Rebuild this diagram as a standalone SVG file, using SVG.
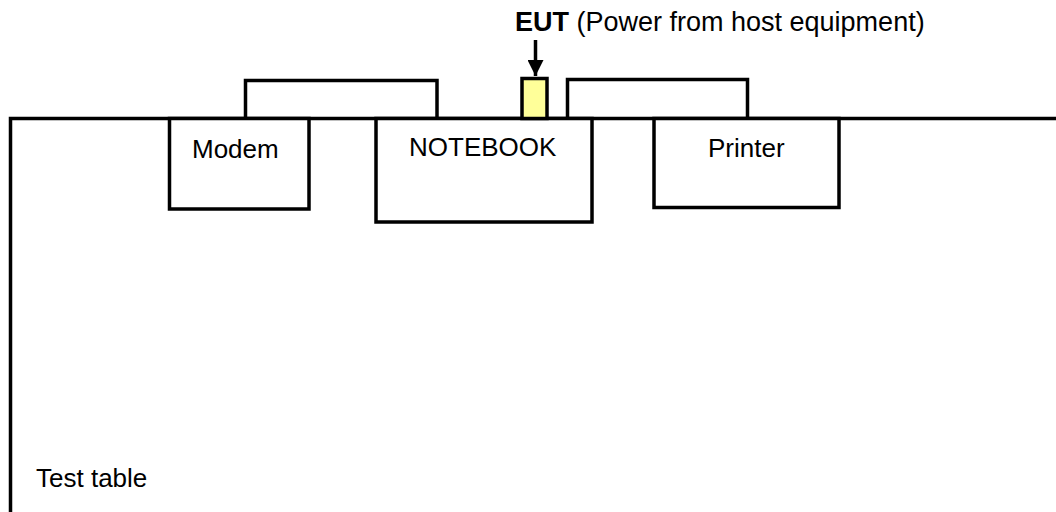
<svg xmlns="http://www.w3.org/2000/svg" width="1056" height="512" viewBox="0 0 1056 512">
<style>
.ln{fill:none;stroke:#000;stroke-width:3.5;stroke-linejoin:miter}
.bx{fill:#fff;stroke:#000;stroke-width:3.5}
.t{font-family:"Liberation Sans",Arial,sans-serif;font-size:26px;fill:#000}
.big{font-size:27px}
</style>
<defs>
<marker id="ah" viewBox="0 0 16 16" refX="16" refY="8" markerWidth="16" markerHeight="16" markerUnits="userSpaceOnUse" orient="auto">
<path d="M0,0 L16,8 L0,16 Z" fill="#000"/>
</marker>
</defs>
<rect width="1056" height="512" fill="#fff"/>
<g id="connectors">
<path class="ln" d="M245.5,118.5 V80.5 H437 V118.5"/>
<path class="ln" d="M567.5,118.5 V79.5 H747.5 V118.5"/>
<line x1="535.5" y1="40" x2="535.5" y2="76" stroke="#000" stroke-width="3.5" marker-end="url(#ah)"/>
</g>
<g id="table">
<path class="ln" d="M10.5,512 V118.5 H1056"/>
<text class="t" x="36" y="487">Test table</text>
</g>
<g id="modem">
<rect class="bx" x="169.5" y="118.5" width="139.5" height="90.5"/>
<text class="t" x="192" y="158">Modem</text>
</g>
<g id="notebook">
<rect class="bx" x="376" y="118.5" width="216" height="103.5"/>
<text class="t" x="409" y="156">NOTEBOOK</text>
</g>
<g id="printer">
<rect class="bx" x="654" y="118.5" width="185" height="89"/>
<text class="t" x="708" y="157">Printer</text>
</g>
<g id="eut">
<rect x="522" y="78.5" width="25" height="40" fill="#ffff99" stroke="#000" stroke-width="3.5"/>
<text class="t big" x="515" y="31"><tspan font-weight="bold">EUT</tspan> (Power from host equipment)</text>
</g>
</svg>
